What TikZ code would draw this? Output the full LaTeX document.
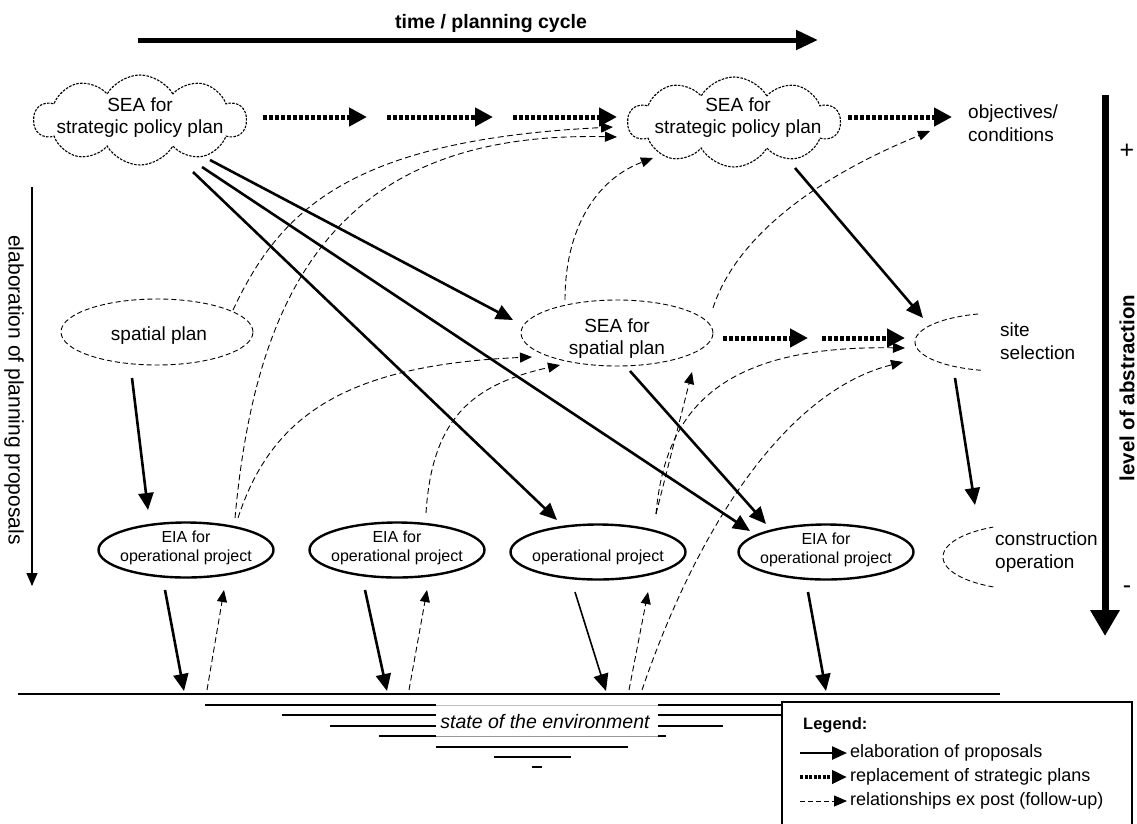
\documentclass[tikz,border=0pt]{standalone}
\usepackage{fontspec}
\setmainfont{Liberation Sans}
\usetikzlibrary{arrows.meta,shapes.geometric,shapes.symbols,calc}
\newcommand{\fsz}[2]{\fontsize{#1pt}{#2pt}\selectfont}
\tikzset{
  elab/.style={line width=2.6pt, -{Triangle[length=17pt,width=15pt]}},
  elabthin/.style={line width=1.6pt, -{Triangle[length=17pt,width=15pt]}},
  repl/.style={line width=5pt, dash pattern=on 4pt off 2pt, -{Triangle[length=18pt,width=18pt]}},
  fol/.style={line width=0.9pt, dash pattern=on 6pt off 3.5pt, -{Triangle[length=12pt,width=10pt]}},
  cloudshape/.style={cloud, cloud puffs=10, cloud puff arc=120, cloud ignores aspect, draw, line width=1.1pt,
     dash pattern=on 2.5pt off 1.3pt, minimum width=212pt, minimum height=90pt, inner sep=0pt},
  thindash/.style={line width=0.9pt, dash pattern=on 5pt off 3pt},
  dashell/.style={ellipse, draw, thindash, minimum width=192pt, minimum height=66pt, inner sep=0pt},
  eia/.style={ellipse, draw, line width=2.4pt, minimum width=175pt, minimum height=55pt, inner sep=0pt},
  hidden/.style={ellipse, draw=none, minimum width=170pt, minimum height=60pt, inner sep=0pt},
  bigtxt/.style={align=center, inner sep=0pt, font=\fsz{19}{22}},
  eiatxt/.style={align=center, inner sep=0pt, font=\fsz{16}{19}},
  sidetxt/.style={align=left, inner sep=0pt, anchor=west, font=\fsz{19}{22.5}},
  legtxt/.style={inner sep=0pt, anchor=west, font=\fsz{18}{21}},
  gline/.style={line width=1.4pt},
}
\begin{document}
\begin{tikzpicture}[x=1pt,y=-1pt]
\useasboundingbox (0,0) rectangle (1137,823);
\fill[white] (0,0) rectangle (1137,823);

% ---------- top time arrow
\node[inner sep=0pt, font=\bfseries\fsz{19.5}{22}] (time) at (491,23) {time / planning cycle};
\coordinate (tA) at (138,40);
\coordinate (tB) at (818,40);
\draw[line width=5pt, -{Triangle[length=22pt,width=19pt]}] (tA) -- (tB);

% ---------- axes
\coordinate (rA) at (1105,95);
\coordinate (rB) at (1105,636);
\draw[line width=7pt, -{Triangle[length=26pt,width=28pt]}] (rA) -- (rB);
\node[inner sep=0pt, rotate=90, font=\bfseries\fsz{20.5}{24}] (loa) at (1127,388) {level of abstraction};
\node[inner sep=0pt, font=\fsz{25}{28}] (plus) at (1127,151) {+};
\node[inner sep=0pt, font=\fsz{25}{28}] (minus) at (1127,590) {-};

\coordinate (lA) at (32,187);
\coordinate (lB) at (32,586);
\draw[line width=1.2pt, -{Triangle[length=13pt,width=11pt]}] (lA) -- (lB);
\node[inner sep=0pt, rotate=-90, font=\fsz{21}{24}] (elabtxt) at (14,390) {elaboration of planning proposals};

% ---------- nodes
\node[cloudshape] (c1) at (140,120) {};
\node[bigtxt] (c1t) at (140,118) {SEA for\\strategic policy plan};
\node[cloudshape] (c2) at (734,122) {};
\node[bigtxt] (c2t) at (738,118) {SEA for\\strategic policy plan};
\node[sidetxt] (obj) at (968,123) {objectives/\\conditions};

\node[dashell] (sp) at (157,332) {};
\node[bigtxt] (spt) at (159,336) {spatial plan};
\node[dashell] (sea) at (617,333) {};
\node[bigtxt] (seat) at (617,339) {SEA for\\spatial plan};

\node[hidden] (siteE) at (1000,342) {};
\draw[thindash] plot[domain=103:257, samples=60] ({1000+85*cos(\x)},{342+29*sin(\x)});
\node[sidetxt] (site) at (1000,341) {site\\selection};

\node[hidden] (consE) at (1030,557) {};
\draw[thindash] plot[domain=115:245, samples=60] ({1030+87*cos(\x)},{557+33*sin(\x)});
\node[sidetxt] (cons) at (995,552) {construction\\operation};

\node[eia] (e1) at (186,550) {};
\node[eiatxt] (e1t) at (186,548) {EIA for\\operational project};
\node[eia] (e2) at (397,550) {};
\node[eiatxt] (e2t) at (397,548) {EIA for\\operational project};
\node[eia] (op) at (598,552) {};
\node[eiatxt] (opt) at (598,557) {operational project};
\node[eia] (e4) at (826,552) {};
\node[eiatxt] (e4t) at (826,550) {EIA for\\operational project};

% ---------- replacement of strategic plans
\coordinate (q1) at (367,117);
\coordinate (q2) at (387,117);
\coordinate (q3) at (493,117);
\coordinate (q4) at (513,117);
\coordinate (q5) at (808,338);
\coordinate (q6) at (822,338);
\draw[repl] ($(c1)+(123,-3)$) -- (q1);
\draw[repl] (q2) -- (q3);
\draw[repl] (q4) -- ($(c2)+(-117,-5)$);
\draw[repl] ($(c2)+(114,-5)$) -- ($(obj.west)+(-16,-6)$);
\draw[repl] ($(sea)+(106,5)$) -- (q5);
\draw[repl] (q6) -- ($(siteE)+(-95,-4)$);

% ---------- elaboration of proposals
\draw[elab] ($(c1)+(70,40)$) -- ($(sea)+(-104,-13)$);
\draw[elab] ($(c1)+(62,47)$) -- ($(e4)+(-76,-21)$);
\draw[elab] ($(c1)+(53,52)$) -- ($(op)+(-41,-32)$);
\draw[elab] ($(c2)+(61,46)$) -- ($(siteE)+(-77,-24)$);
\draw[elab] ($(sp)+(-25,46)$) -- ($(e1)+(-38,-40)$);
\draw[elab] ($(sea)+(13,38)$) -- ($(e4)+(-60,-28)$);
\draw[elab] ($(siteE)+(-45,36)$) -- ($(consE)+(-55,-52)$);

% ---------- ground
\coordinate (gl) at (18,694);
\coordinate (gr) at (1000,694);
\draw[gline] (gl) -- (gr);
\coordinate (g1) at (184,691);
\coordinate (g2) at (387,691);
\coordinate (g3) at (606,691);
\coordinate (g4) at (826,691);
\coordinate (h1) at (207,690);
\coordinate (h2) at (409,690);
\coordinate (h3) at (629,690);
\coordinate (h4) at (642,690);
\draw[elab] ($(e1)+(-21,40)$) -- (g1);
\draw[elab] ($(e2)+(-32,40)$) -- (g2);
\draw[elabthin] ($(op)+(-23,40)$) -- (g3);
\draw[elab] ($(e4)+(-18,40)$) -- (g4);

% ---------- relationships ex post
\draw[fol] (h1) -- ($(e1)+(38,40)$);
\draw[fol] (h2) -- ($(e2)+(30,40)$);
\draw[fol] (h3) -- ($(op)+(50,40)$);
\draw[fol] (h4) .. controls (700,520) and (790,390) .. ($(siteE)+(-97,20)$);
\draw[fol] ($(e1)+(49,-32)$) .. controls (255,300) and (330,130) .. ($(c2)+(-117,15)$);
\draw[fol] ($(sp)+(76,-22)$) .. controls (280,210) and (350,140) .. ($(c2)+(-121,5)$);
\draw[fol] ($(e1)+(52,-32)$) .. controls (270,420) and (340,365) .. ($(sea)+(-85,24)$);
\draw[fol] ($(e2)+(29,-37)$) .. controls (432,420) and (470,385) .. ($(sea)+(-57,32)$);
\draw[fol] ($(op)+(58,-38)$) -- ($(sea)+(75,39)$);
\draw[fol] ($(op)+(58,-38)$) .. controls (665,410) and (720,345) .. ($(siteE)+(-95,6)$);
\draw[fol] ($(sea)+(-52,-33)$) .. controls (565,230) and (595,180) .. ($(c2)+(-81,36)$);
\draw[fol] ($(sea)+(96,-25)$) .. controls (735,240) and (810,180) .. ($(obj.west)+(-38,8)$);

% ---------- state of the environment
\draw[gline] (205,705) -- (436,705);
\draw[gline] (282,715) -- (436,715);
\draw[gline] (330,726) -- (436,726);
\draw[gline] (379,736) -- (436,736);
\draw[gline] (658,705) -- (782,705);
\draw[gline] (658,715) -- (782,715);
\draw[gline] (658,726) -- (723,726);
\draw[gline] (658,736) -- (666,736);
\draw[gline] (436,747) -- (628,747);
\draw[gline] (494,757) -- (571,757);
\draw[gline] (532,767) -- (542,767);
\draw[line width=0.8pt, black!25] (436,705) -- (658,705);
\draw[line width=0.8pt, black!40] (436,736) -- (658,736);
\node[inner sep=0pt, font=\itshape\fsz{19.5}{22}] (soe) at (545,722) {state of the environment};

% ---------- legend
\draw[line width=2pt] (782,826) -- (782,702) -- (1132,702) -- (1132,826);
\node[inner sep=0pt, anchor=west, font=\bfseries\fsz{16.5}{20}] (leg) at (803,725) {Legend:};
\coordinate (L1a) at (800,753);
\coordinate (L1b) at (847,753);
\coordinate (L2a) at (800,777);
\coordinate (L2b) at (847,777);
\coordinate (L3a) at (800,801);
\coordinate (L3b) at (847,801);
\draw[line width=2.4pt, -{Triangle[length=15pt,width=13pt]}] (L1a) -- (L1b);
\draw[line width=4pt, dash pattern=on 3pt off 1.5pt, -{Triangle[length=15pt,width=13pt]}] (L2a) -- (L2b);
\draw[line width=0.9pt, dash pattern=on 5pt off 3pt, -{Triangle[length=13pt,width=11pt]}] (L3a) -- (L3b);
\node[legtxt] (lt1) at (850,753) {elaboration of proposals};
\node[legtxt] (lt2) at (850,777) {replacement of strategic plans};
\node[legtxt] (lt3) at (850,801) {relationships ex post (follow-up)};
\end{tikzpicture}
\end{document}
